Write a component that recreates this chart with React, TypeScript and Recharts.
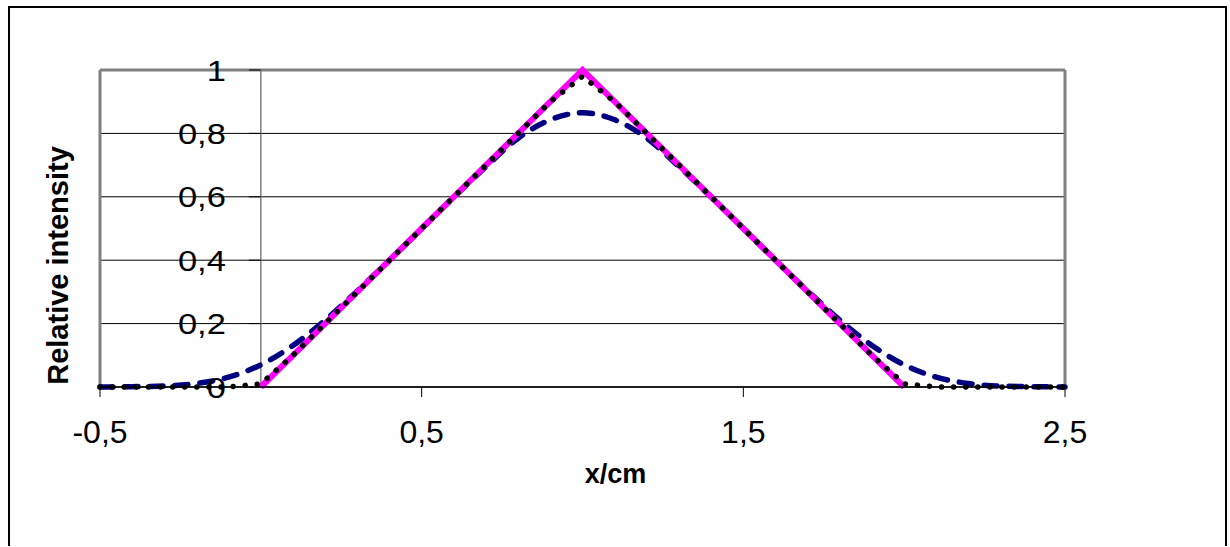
import { LineChart, Line, XAxis, YAxis, CartesianGrid, ReferenceLine } from 'recharts';

// x positions (cm)
const xs = [
  -0.5, -0.4, -0.3, -0.2, -0.1, 0, 0.1, 0.2, 0.3, 0.4, 0.5, 0.6, 0.7, 0.8, 0.9, 1.0,
  1.1, 1.2, 1.3, 1.4, 1.5, 1.6, 1.7, 1.8, 1.9, 2.0, 2.1, 2.2, 2.3, 2.4, 2.5,
];

// magenta solid: ideal triangle, only drawn between 0 and 2
const ideal = [
  null, null, null, null, null, 0, 0.1, 0.2, 0.3, 0.4, 0.5, 0.6, 0.7, 0.8, 0.9, 1.0,
  0.9, 0.8, 0.7, 0.6, 0.5, 0.4, 0.3, 0.2, 0.1, 0, null, null, null, null, null,
];

// black dotted: almost the triangle, slightly rounded top
const dotted = [
  0, 0, 0, 0, 0, 0.01, 0.1, 0.2, 0.3, 0.4, 0.5, 0.6, 0.7, 0.8, 0.9, 0.98,
  0.9, 0.8, 0.7, 0.6, 0.5, 0.4, 0.3, 0.2, 0.1, 0.01, 0, 0, 0, 0, 0,
];

// navy dashed: smoothed profile
const dashed = [
  0, 0.001, 0.003, 0.011, 0.031, 0.07, 0.131, 0.211, 0.303, 0.4, 0.5, 0.599, 0.695, 0.785, 0.843, 0.865,
  0.843, 0.785, 0.695, 0.599, 0.5, 0.4, 0.303, 0.211, 0.131, 0.07, 0.031, 0.011, 0.003, 0.001, 0,
];

const xTicks = [-0.5, 0.5, 1.5, 2.5];
const yTicks = [0, 0.2, 0.4, 0.6, 0.8, 1];

const data = xs.map((x, i) => ({ x, ideal: ideal[i], dotted: dotted[i], dashed: dashed[i] }));

const X_MIN = -0.5;
const X_MAX = 2.5;
const CHART_W = 1215;
const CHART_H = 525;
const Y_AXIS_W = 40;
const margin = { top: 62, right: 160, bottom: 46, left: 90 - Y_AXIS_W };
const plotWidth = CHART_W - 90 - margin.right;
// y axis crosses at x = 0
const yAxisShift = ((0 - X_MIN) / (X_MAX - X_MIN)) * plotWidth;

const font = "'Liberation Sans', Arial, sans-serif";
const fmt = (v: number) => String(v).replace('.', ',');

const YTick = (props: any) => {
  const { x, y, payload } = props;
  const ax = x + yAxisShift;
  return (
    <g>
      <line x1={ax - 12} y1={y} x2={ax} y2={y} stroke="#000" strokeWidth={1} />
      <text
        transform={`translate(${ax - 35}, ${y}) scale(1.15, 1)`}
        x={0}
        y={0}
        dy="0.355em"
        textAnchor="end"
        fontSize={30}
        fontFamily={font}
        fill="#000"
      >
        {fmt(payload.value)}
      </text>
    </g>
  );
};

const XTitle = (props: any) => {
  const vb = props.viewBox;
  return (
    <text x={vb.x + vb.width / 2 + 33} y={vb.y + 96} textAnchor="middle" fontSize={27} fontWeight="bold" fontFamily={font} fill="#000">
      x/cm
    </text>
  );
};

const YTitle = (props: any) => {
  const vb = props.viewBox;
  const tx = vb.x + vb.width - 32;
  const ty = vb.y + vb.height / 2 + 37;
  return (
    <text x={tx} y={ty} transform={`rotate(-90, ${tx}, ${ty})`} textAnchor="middle" fontSize={29} fontWeight="bold" fontFamily={font} fill="#000">
      Relative intensity
    </text>
  );
};

export default function App() {
  return (
    <div
      style={{
        position: 'absolute',
        left: 8,
        top: 6,
        boxSizing: 'border-box',
        width: CHART_W + 4,
        height: 540,
        borderTop: '2px solid #000',
        borderLeft: '2px solid #000',
        borderRight: '2px solid #000',
        background: '#fff',
      }}
    >
      <LineChart width={CHART_W} height={CHART_H} data={data} margin={margin}>
        <CartesianGrid horizontal vertical={false} stroke="#000" strokeWidth={1} />
        <XAxis
          dataKey="x"
          type="number"
          domain={[X_MIN, X_MAX]}
          ticks={xTicks}
          interval={0}
          height={100}
          tickFormatter={fmt}
          axisLine={{ stroke: '#000', strokeWidth: 1.5 }}
          tickLine={{ stroke: '#000' }}
          tickSize={10}
          tickMargin={23}
          tick={{ fontSize: 32, fontFamily: font, fill: '#000' }}
          label={<XTitle />}
        />
        <YAxis
          type="number"
          domain={[0, 1]}
          ticks={yTicks}
          interval={0}
          width={Y_AXIS_W}
          axisLine={false}
          tickLine={false}
          tickSize={0}
          tickMargin={0}
          tick={(p: any) => <YTick {...p} />}
          label={<YTitle />}
        />
        <ReferenceLine x={0} stroke="#808080" strokeWidth={1.5} />
        <ReferenceLine y={1} stroke="#808080" strokeWidth={3} />
        <ReferenceLine x={X_MIN} stroke="#808080" strokeWidth={3} />
        <ReferenceLine x={X_MAX} stroke="#808080" strokeWidth={3} />
        <Line
          type="monotone"
          dataKey="dashed"
          stroke="#000080"
          strokeWidth={5.5}
          strokeDasharray="13 12"
          strokeLinecap="round"
          dot={false}
          activeDot={false}
          isAnimationActive={false}
        />
        <Line
          type="linear"
          dataKey="ideal"
          stroke="#FF00FF"
          strokeWidth={6}
          dot={false}
          activeDot={false}
          isAnimationActive={false}
        />
        <Line
          type="linear"
          dataKey="dotted"
          stroke="#000"
          strokeWidth={5.5}
          strokeDasharray="0.1 12"
          strokeLinecap="round"
          dot={false}
          activeDot={false}
          isAnimationActive={false}
        />
      </LineChart>
    </div>
  );
}
